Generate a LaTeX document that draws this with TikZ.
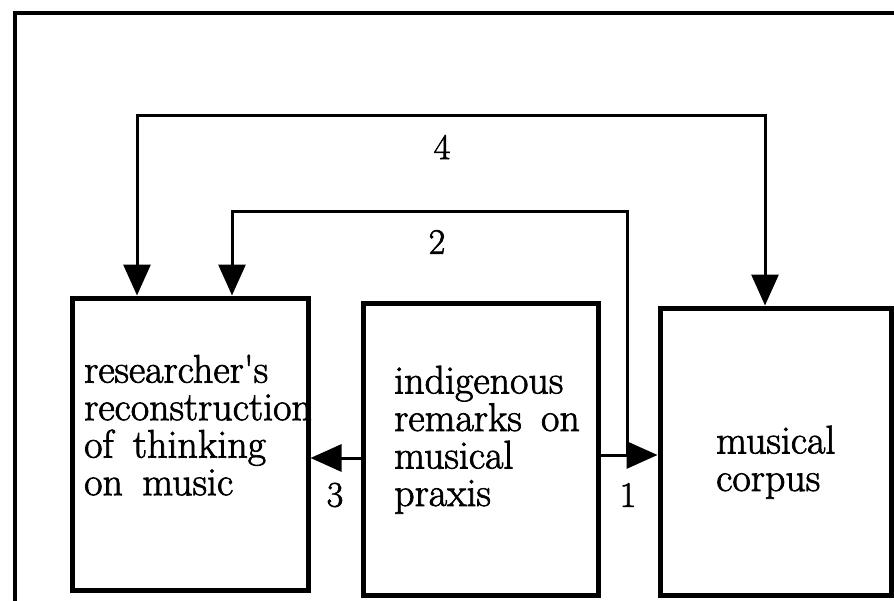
\documentclass[tikz,border=0pt]{standalone}
\usepackage{fontspec}
\newfontfamily\printface[FakeBold=1.8, WordSpace=1.6]{Latin Modern Roman}
\usetikzlibrary{arrows.meta}
\begin{document}
\begin{tikzpicture}[x=1pt,y=-1pt,
  box/.style={draw, line width=5pt, rectangle, inner sep=0pt},
  conn/.style={line width=3pt, line join=miter},
  tip/.tip={Triangle[length=31pt,width=27pt]},
  body/.style={anchor=north west, inner sep=0pt, align=left,
    font=\printface\fontsize{40}{37.5}\selectfont},
  num/.style={inner sep=0pt, font=\printface\fontsize{36}{38}\selectfont}]
\useasboundingbox (0,0) rectangle (894,600);
\clip (0,0) rectangle (894,600);
% outer frame, running past the right and lower edges
\draw[line width=3.5pt] (15,13) rectangle (910,620);

% the three boxes
\node[box, minimum width=236pt, minimum height=292pt] (L) at (190,444) {};
\node[box, minimum width=235pt, minimum height=292pt] (M) at (480.5,449) {};
\node[box, minimum width=231pt, minimum height=287pt] (R) at (775.5,451.5) {};

\node[body] (Lt) at (84,354.5) {researcher\textquotesingle s\\reconstruction\\of thinking\\on music};
\node[body] (Mt) at (394,365.5) {indigenous\\remarks on\\musical\\praxis};
\node[body] (Rt) at (716,425.5) {musical\\corpus};

% connector routing points
\coordinate (a1) at (0,455);
\coordinate (a3) at (0,458);
\coordinate (k2) at (627,211);
\coordinate (e2) at (232,211);
\coordinate (k4) at (765,115);
\coordinate (e4) at (137,115);

% 1: remarks -> corpus
\draw[conn, -{tip}] (M.east |- a1) -- (R.west |- a1);
% 3: remarks -> reconstruction
\draw[conn, -{tip}] (M.west |- a3) -- (L.east |- a3);
% 2: from connector 1 up and over to reconstruction
\draw[conn, -{tip}] (k2 |- a1) -- (k2) -- (e2) -- (e2 |- L.north);
% 4: corpus <-> reconstruction
\draw[conn, {tip}-{tip}] (k4 |- R.north) -- (k4) -- (e4) -- (e4 |- L.north);

\node[num] (n4) at (442,147) {4};
\node[num] (n2) at (437,242) {2};
\node[num] (n3) at (335,495) {3};
\node[num] (n1) at (628,495) {1};
\end{tikzpicture}
\end{document}
